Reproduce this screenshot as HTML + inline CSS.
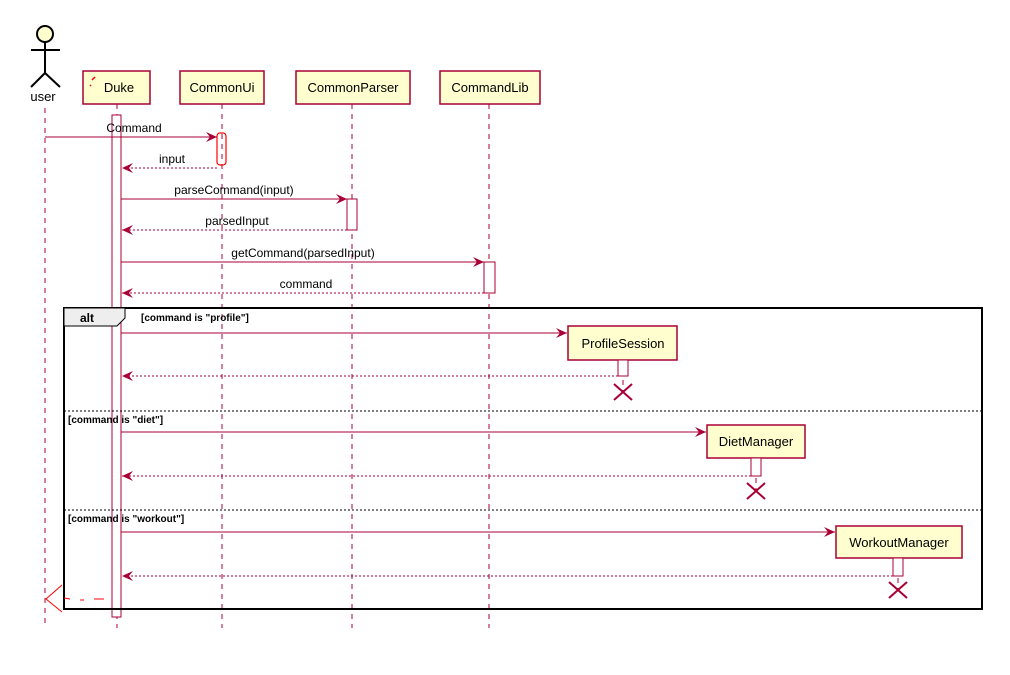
<!DOCTYPE html>
<html><head><style>body{margin:0;background:#fff}</style></head><body>
<svg width="1010" height="670" xmlns="http://www.w3.org/2000/svg" font-family="Liberation Sans, sans-serif">
<defs>
<marker id="a" markerWidth="12" markerHeight="10" refX="11" refY="5" orient="auto" markerUnits="userSpaceOnUse"><path d="M0,0 L11,5 L0,10 L4,5 Z" fill="#A80036"/></marker>
</defs>
<g stroke="#A80036" stroke-width="1" stroke-dasharray="5,5">
<line x1="45" y1="108" x2="45" y2="628"/>
<line x1="117" y1="104" x2="117" y2="628"/>
<line x1="222" y1="104" x2="222" y2="628"/>
<line x1="352" y1="104" x2="352" y2="628"/>
<line x1="489" y1="104" x2="489" y2="628"/>
<line x1="623" y1="360" x2="623" y2="392"/>
<line x1="756" y1="458" x2="756" y2="491"/>
<line x1="898" y1="558" x2="898" y2="590"/>
</g>
<!-- actor -->
<g stroke="#000" stroke-width="2" fill="none">
<circle cx="45" cy="34" r="8" fill="#FEFECE"/>
<line x1="45" y1="42" x2="45" y2="73"/>
<line x1="31" y1="50" x2="60" y2="50"/>
<line x1="45" y1="73" x2="31" y2="87"/>
<line x1="45" y1="73" x2="60" y2="87"/>
</g>
<text x="43" y="101" font-size="13" text-anchor="middle">user</text>
<!-- participants -->
<g fill="#FEFECE" stroke="#A80036" stroke-width="1.5">
<rect x="83" y="71" width="67" height="33"/>
<rect x="180" y="71" width="84" height="33"/>
<rect x="296" y="71" width="114" height="33"/>
<rect x="440" y="71" width="100" height="33"/>
<rect x="568" y="326" width="109" height="34"/>
<rect x="707" y="425" width="98" height="33"/>
<rect x="836" y="526" width="126" height="32"/>
</g>
<g font-size="13" text-anchor="middle">
<text x="119" y="92">Duke</text>
<text x="222" y="92">CommonUi</text>
<text x="353" y="92">CommonParser</text>
<text x="490" y="92">CommandLib</text>
<text x="623" y="348">ProfileSession</text>
<text x="756" y="446">DietManager</text>
<text x="899" y="547">WorkoutManager</text>
</g>
<path d="M92,80 l3,-3 M90,86 l1,-1" stroke="red" stroke-width="1.5"/>
<!-- activations -->
<g fill="#fff" stroke="#A80036" stroke-width="1">
<rect x="112" y="115" width="9" height="502"/>
<rect x="347" y="199" width="10" height="31"/>
<rect x="484" y="262" width="11" height="31"/>
<rect x="618" y="360" width="10" height="16"/>
<rect x="751" y="458" width="10" height="18"/>
<rect x="893" y="558" width="10" height="18"/>
</g>
<rect x="217" y="133" width="9" height="32" rx="3" fill="none" stroke="red" stroke-width="1.2"/>
<!-- messages -->
<g stroke="#A80036" stroke-width="1" fill="none">
<line x1="45" y1="137" x2="217" y2="137" marker-end="url(#a)"/>
<line x1="217" y1="168" x2="122" y2="168" stroke-dasharray="2,2" marker-end="url(#a)"/>
<line x1="121" y1="199" x2="347" y2="199" marker-end="url(#a)"/>
<line x1="347" y1="230" x2="122" y2="230" stroke-dasharray="2,2" marker-end="url(#a)"/>
<line x1="121" y1="262" x2="484" y2="262" marker-end="url(#a)"/>
<line x1="484" y1="293" x2="122" y2="293" stroke-dasharray="2,2" marker-end="url(#a)"/>
<line x1="121" y1="333" x2="567" y2="333" marker-end="url(#a)"/>
<line x1="618" y1="376" x2="122" y2="376" stroke-dasharray="2,2" marker-end="url(#a)"/>
<line x1="121" y1="432" x2="706" y2="432" marker-end="url(#a)"/>
<line x1="751" y1="476" x2="122" y2="476" stroke-dasharray="2,2" marker-end="url(#a)"/>
<line x1="121" y1="532" x2="835" y2="532" marker-end="url(#a)"/>
<line x1="893" y1="576" x2="122" y2="576" stroke-dasharray="2,2" marker-end="url(#a)"/>
</g>
<g stroke="#A80036" stroke-width="2">
<path d="M614,384 L632,400 M632,384 L614,400"/>
<path d="M747,483 L765,499 M765,483 L747,499"/>
<path d="M889,582 L907,598 M907,582 L889,598"/>
</g>
<g font-size="12" text-anchor="middle">
<text x="134" y="132">Command</text>
<text x="172" y="163">input</text>
<text x="234" y="194">parseCommand(input)</text>
<text x="237" y="225">parsedInput</text>
<text x="303" y="257">getCommand(parsedInput)</text>
<text x="306" y="288">command</text>
</g>
<!-- alt frame -->
<rect x="64" y="308" width="918" height="301" fill="none" stroke="#000" stroke-width="2"/>
<path d="M64,308 L125,308 L125,318 L117,326 L64,326 Z" fill="#EEEEEE" stroke="#000" stroke-width="1"/>
<text x="80" y="322" font-size="12" font-weight="bold">alt</text>
<g font-size="10" font-weight="bold">
<text x="141" y="321">[command is "profile"]</text>
<text x="68" y="423">[command is "diet"]</text>
<text x="68" y="522">[command is "workout"]</text>
</g>
<g stroke="#000" stroke-width="1" stroke-dasharray="2,2">
<line x1="64" y1="411" x2="982" y2="411"/>
<line x1="64" y1="510" x2="982" y2="510"/>
</g>
<path d="M62,585 L46,599 L62,612" fill="none" stroke="red" stroke-width="1"/>
<path d="M64,598 L70,599 M80,600 L84,600 M94,599 L104,599" stroke="red" stroke-width="1"/>
</svg>
</body></html>
